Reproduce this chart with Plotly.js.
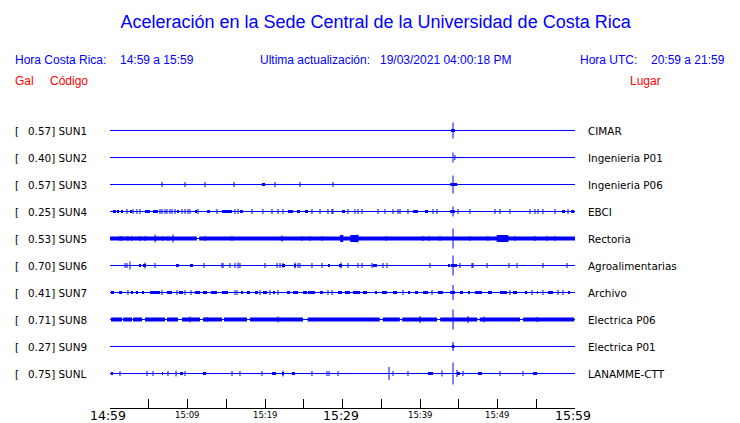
<!DOCTYPE html>
<html><head><meta charset="utf-8">
<script src="https://cdn.plot.ly/plotly-3.0.1.min.js"></script>
<style>html,body{margin:0;padding:0;background:#fff}#chart{width:740px;height:423px}</style>
</head><body><div id="chart"></div>
<script>
// ---------------- DATA ----------------
const codes  = ['SUN1','SUN2','SUN3','SUN4','SUN5','SUN6','SUN7','SUN8','SUN9','SUNL'];
const gal    = [0.57, 0.40, 0.57, 0.25, 0.53, 0.70, 0.41, 0.71, 0.27, 0.75];
const places = ['CIMAR','Ingenieria P01','Ingenieria P06','EBCI','Rectoria','Agroalimentarias','Archivo','Electrica P06','Electrica P01','LANAMME-CTT'];

// time axis: minutes after 14:59
const tickMinutes = [0,5,10,15,20,25,30,35,40,45,50,55,60];
const tickLabels  = ['14:59','','15:09','','15:19','','15:29','','15:39','','15:49','','15:59'];

// main event (minutes) and its peak amplitude per station
const eventTime = 44.26;
const eventAmp  = [8, 5, 9, 5, 10, 10, 7.5, 10, 4.5, 11];

// continuous dense-noise bands [start, end]
const sun5_bands = [[0,11.2],[11.5,60]];
const sun8_bands = [[0.13,1.55],[1.7,2.84],[2.97,4.13],[4.52,7.1],[7.35,8.77],[9.29,11.61],[12.0,14.45],[14.71,17.68],[18.06,24.9],[25.5,34.8],[35.2,37.4],[37.7,42.2],[42.6,47.4],[47.7,52.9],[53.3,59.9]];

// larger bursts [start, end]
const sun5_wide = [[49.9,51.4],[31.0,32.0],[29.7,30.1]];

// small bursts [start, end]
const sun1_blocks = [[44.0,44.5]];
const sun2_blocks = [];
const sun3_blocks = [[19.6,20.0],[43.9,44.8]];
const sun4_blocks = [[0.39,0.77],[0.9,1.16],[1.42,1.68],[2.58,2.84],[4.52,5.16],[5.55,6.19],[8.65,8.9],[10.97,11.23],[12.52,12.9],[14.45,15.74],[16.77,17.16],[22.97,23.61],[24.13,24.52],[25.16,25.55],[29.94,30.32],[39.1,39.74],[40.65,41.03],[43.9,44.5],[58.32,58.71],[59.5,59.9]];
const sun5_blocks = [];
const sun6_blocks = [[3.74,4.0],[4.26,4.65],[8.52,8.9],[10.32,10.71],[22.19,22.58],[23.74,24.0],[28.13,28.39],[29.55,29.94],[33.94,34.45],[43.61,43.87],[44.0,44.65],[44.52,44.77]];
const sun7_blocks = [[0.13,0.52],[1.16,1.55],[2.71,2.97],[3.35,3.61],[4.13,4.39],[5.16,6.45],[7.35,8.0],[8.9,9.42],[10.97,11.61],[12.0,12.52],[13.03,13.81],[14.45,15.23],[16.9,17.16],[17.68,18.06],[18.71,19.1],[19.74,20.26],[21.03,21.29],[22.84,23.23],[23.61,24.26],[24.9,25.42],[25.55,26.45],[27.1,27.48],[29.42,29.94],[30.32,30.97],[31.35,32.26],[32.65,33.16],[34.19,34.45],[35.1,35.74],[36.52,37.03],[38.45,38.71],[39.35,39.74],[40.39,41.03],[42.32,42.97],[43.87,44.52],[45.16,45.55],[46.19,46.45],[47.1,48.0],[48.77,49.29],[50.32,51.23],[52.0,52.52],[53.55,53.81],[55.1,55.23],[56.52,57.16],[59.1,59.35]];
const sun8_blocks = [];
const sun9_blocks = [[44.1,44.45]];
const sunL_blocks = [[0.13,0.39],[6.71,6.84],[9.03,9.42],[12.0,12.39],[20.9,21.42],[22.19,22.45],[23.48,23.87],[41.03,41.68],[44.77,45.16],[47.48,48.0],[54.58,55.1]];

// single short spikes (times, small amplitude)
const sun1_ticks = [];
const sun2_ticks = [44.5];
const sun3_ticks = [6.71,9.68,12.26,16.0,21.29,24.52,28.77];
const sun4_ticks = [2.19,2.97,3.48,3.87,6.45,6.71,7.1,7.35,7.74,8.0,8.39,9.29,9.68,10.06,10.32,11.35,13.8,16.13,16.52,18.32,19.74,20.9,21.68,22.32,26.06,27.1,28.13,28.65,28.77,30.71,31.61,32.0,32.52,34.58,35.48,36.52,37.16,37.42,38.45,41.68,42.19,44.9,46.45,49.68,50.32,51.61,54.19,54.84,55.23,55.87,57.42,59.1];
const sun5_ticks = [1.29,1.55,2.32,2.84,3.87,4.52,5.94,6.84,7.48,12.26,15.74,22.19,24.77,25.81,27.35,35.61,40.39,41.16,42.58,46.45,48.77,52.26,54.84,56.39,57.42];
const sun6_ticks = [1.94,2.19,5.81,12.13,14.45,14.58,15.48,16.13,16.77,20.0,21.55,21.94,22.32,24.26,24.52,26.06,27.35,30.71,32.0,32.52,33.81,35.23,35.74,41.29,45.16,46.71,46.84,48.65,51.48,52.52,55.87,58.97];
const sun7_ticks = [2.32,6.71,8.65,9.68,10.45,16.13,16.39,19.35,20.65,21.68,28.13,28.65,37.81,41.55,51.61,54.45,55.87,57.81,58.45];
const sun8_ticks = [];
const sun9_ticks = [];
const sunL_ticks = [1.29,4.77,5.55,7.48,9.68,15.74,16.77,19.61,26.06,28.0,28.26,29.42,36.52,38.45,45.55,50.32,53.29];

// taller individual spikes [time, amplitude]
const sun1_spikes = [];
const sun2_spikes = [];
const sun3_spikes = [];
const sun4_spikes = [];
const sun5_spikes = [[5.81,4],[8.13,4],[32.0,4],[22.19,3]];
const sun6_spikes = [[2.58,4],[16.52,3],[23.87,3],[4.52,3],[29.81,3]];
const sun7_spikes = [];
const sun8_spikes = [[10.32,3],[12.52,2.5],[21.68,3],[40.0,3.5],[46.19,3.5],[48.26,3],[55.1,2.5]];
const sun9_spikes = [];
const sunL_spikes = [[8.52,3],[22.32,3],[36.0,6.5],[42.84,3],[44.77,3.5]];

const bandsBy  = [[],[],[],[],sun5_bands,[],[],sun8_bands,[],[]];
const wideBy   = [[],[],[],[],sun5_wide,[],[],[],[],[]];
const blocksBy = [sun1_blocks,sun2_blocks,sun3_blocks,sun4_blocks,sun5_blocks,sun6_blocks,sun7_blocks,sun8_blocks,sun9_blocks,sunL_blocks];
const ticksBy  = [sun1_ticks,sun2_ticks,sun3_ticks,sun4_ticks,sun5_ticks,sun6_ticks,sun7_ticks,sun8_ticks,sun9_ticks,sunL_ticks];
const spikesBy = [sun1_spikes,sun2_spikes,sun3_spikes,sun4_spikes,sun5_spikes,sun6_spikes,sun7_spikes,sun8_spikes,sun9_spikes,sunL_spikes];

// ---------------- BUILD ----------------
const BLUE = '#0000ff';
const ROW = 27;            // row spacing in y units (1 unit = 1 px)
const TICK_AMP = 2.5;
const traces = [];
function segs(list, off){
  const x=[], y=[];
  list.forEach(([a,b])=>{ x.push(a,b,null); y.push(off,off,null); });
  return {x,y};
}
codes.forEach((c,i)=>{
  const off = -ROW*i;
  if (bandsBy[i].length){ const s=segs(bandsBy[i],off); traces.push({type:'scatter',mode:'lines',x:s.x,y:s.y,line:{color:BLUE,width:4},hoverinfo:'skip',showlegend:false}); }
  if (blocksBy[i].length){ const s=segs(blocksBy[i],off); traces.push({type:'scatter',mode:'lines',x:s.x,y:s.y,line:{color:BLUE,width:3},hoverinfo:'skip',showlegend:false}); }
  if (wideBy[i].length){ const s=segs(wideBy[i],off); traces.push({type:'scatter',mode:'lines',x:s.x,y:s.y,line:{color:BLUE,width:7},hoverinfo:'skip',showlegend:false}); }
  // baseline + vertical spikes
  const x=[tickMinutes[0], tickMinutes[tickMinutes.length-1], null], y=[off,off,null];
  ticksBy[i].forEach(t=>{ x.push(t,t,null); y.push(off-TICK_AMP, off+TICK_AMP, null); });
  spikesBy[i].forEach(([t,a])=>{ x.push(t,t,null); y.push(off-a, off+a, null); });
  x.push(eventTime,eventTime,null); y.push(off-eventAmp[i], off+eventAmp[i], null);
  traces.push({type:'scatter',mode:'lines',x,y,line:{color:BLUE,width:1},hoverinfo:'skip',showlegend:false,connectgaps:false});
});

// ---------------- LAYOUT ----------------
const W=740, H=423, L=110, R=165, T=100, B=15;
const pw = W-L-R, ph = H-T-B;
const px = v => (v-L)/pw;          // pixel -> paper x
const py = v => (H-B-v)/ph;        // pixel -> paper y
const SANS = 'Liberation Sans, Arial, sans-serif';
const DJV = 'DejaVu Sans, sans-serif';
const ann = [];
function txt(t, x, y, opts){ ann.push(Object.assign({text:t, xref:'paper', yref:'paper', x:px(x), y:py(y), xanchor:'left', yanchor:'middle', showarrow:false, font:{family:SANS,size:12,color:BLUE}}, opts||{})); }

const RED = {family:SANS,size:12,color:'#ff0000'};
txt('Hora Costa Rica:', 13, 60);
txt('14:59 a 15:59', 118, 60);
txt('Ultima actualización:', 258, 60);
txt('19/03/2021 04:00:18 PM', 378, 60);
txt('Hora UTC:', 578, 60);
txt('20:59 a 21:59', 727, 60, {xanchor:'right'});
txt('Gal', 13, 81, {font:RED});
txt('Código', 48, 81, {font:RED});
txt('Lugar', 628, 81, {font:RED});

codes.forEach((c,i)=>{
  const off = -ROW*i;
  const f = {family:DJV,size:10.4,color:'#000000'};
  ann.push({text:'[', xref:'paper', yref:'y', x:px(13), y:off, xanchor:'left', yanchor:'middle', showarrow:false, font:f});
  ann.push({text:gal[i].toFixed(2)+'] '+c, xref:'paper', yref:'y', x:px(26), y:off, xanchor:'left', yanchor:'middle', showarrow:false, font:f});
  ann.push({text:places[i], xref:'paper', yref:'y', x:px(586), y:off, xanchor:'left', yanchor:'middle', showarrow:false, font:f});
});

tickMinutes.forEach((m,i)=>{
  if (!tickLabels[i]) return;
  const major = (i % 6 === 0);
  ann.push({text:tickLabels[i], xref:'x', yref:'paper', x:m, y:0, xanchor:'center', yanchor:'middle',
    yshift: major ? -7.5 : -6.5, xshift: major ? -2 : 0, showarrow:false, borderpad:0,
    font:{family:DJV, size: major ? 12.5 : 8.5, color:'#000000'}});
});

const layout = {
  width:W, height:H,
  margin:{l:L, r:R, t:T, b:B, pad:0},
  paper_bgcolor:'#ffffff', plot_bgcolor:'#ffffff',
  title:{text:'Aceleración en la Sede Central de la Universidad de Costa Rica', font:{family:SANS,size:18,color:BLUE},
         xref:'container', x:0.5075, yref:'container', y:1-22/H, xanchor:'center', yanchor:'middle'},
  showlegend:false,
  xaxis:{range:[tickMinutes[0], tickMinutes[tickMinutes.length-1]], showgrid:false, zeroline:false,
         showline:true, linecolor:'#000000', linewidth:1, ticks:'inside', ticklen:9, tickwidth:1, tickcolor:'#000000',
         tickvals:tickMinutes, showticklabels:false, fixedrange:true},
  yaxis:{range:[-(H-B-130)+0.5, 130-T+0.5], showgrid:false, zeroline:false, showline:false, showticklabels:false, ticks:'', fixedrange:true},
  annotations:ann
};
Plotly.newPlot('chart', traces, layout, {staticPlot:true, displayModeBar:false});
</script>
</body></html>
